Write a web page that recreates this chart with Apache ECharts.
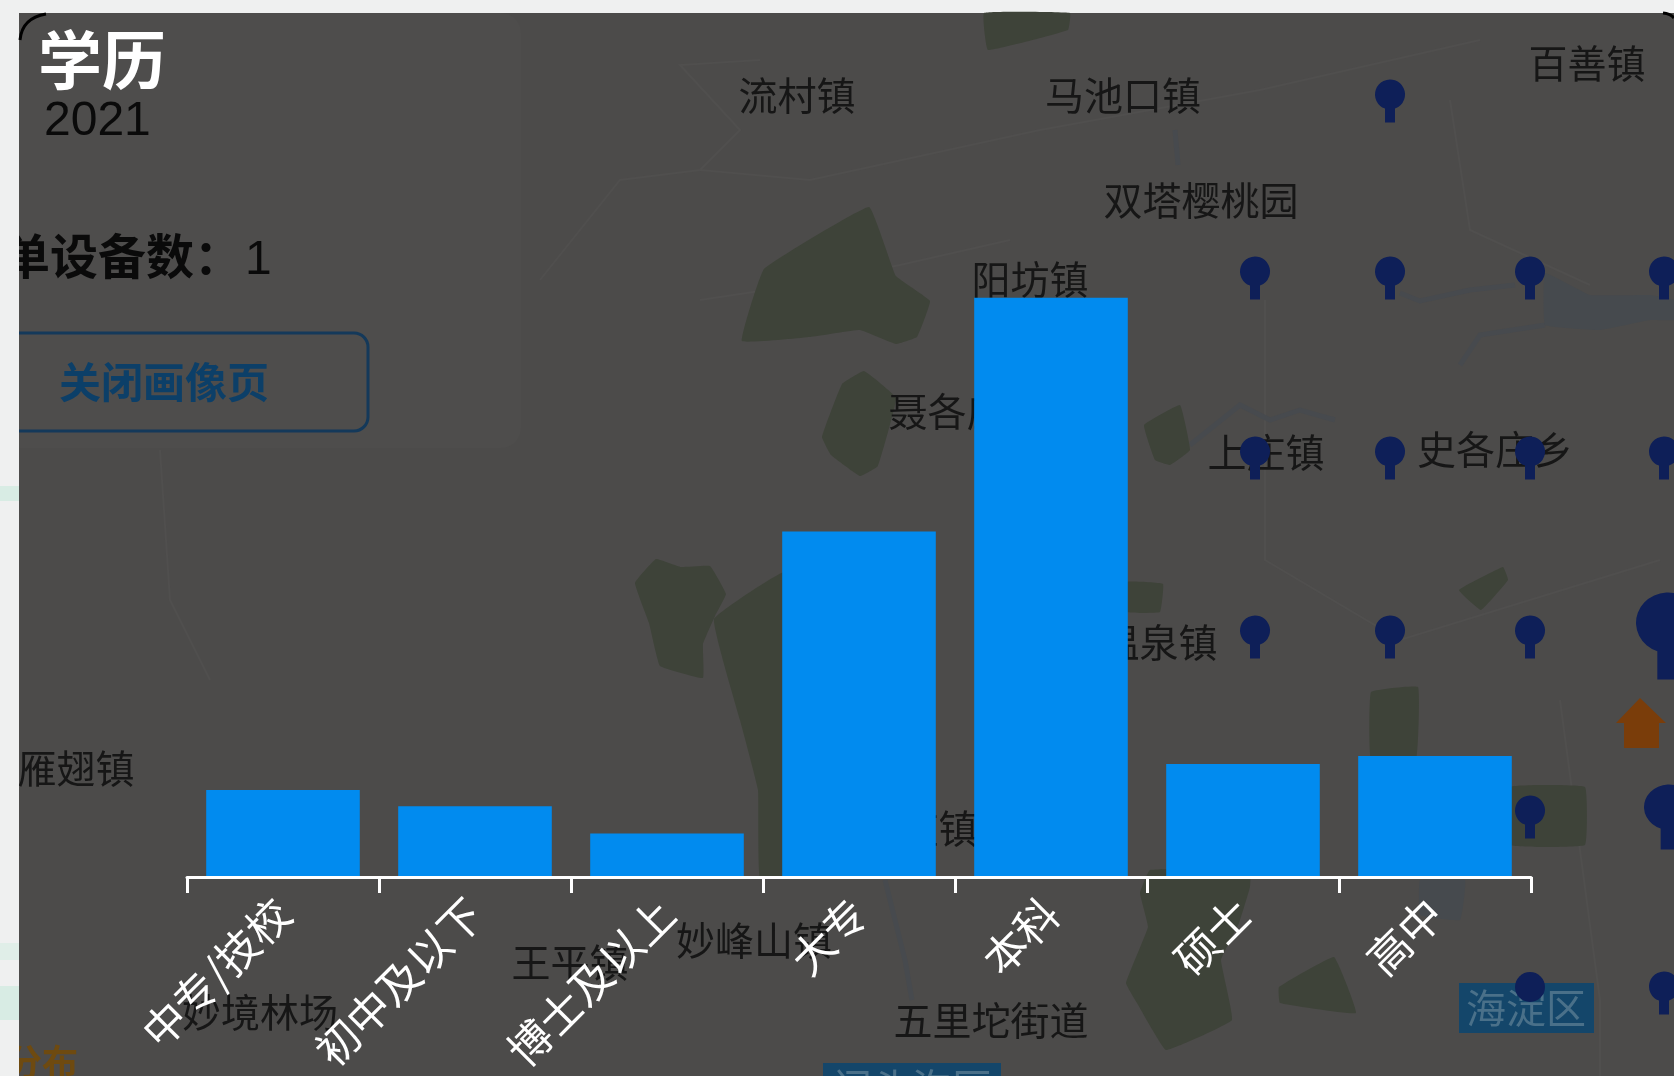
<!DOCTYPE html>
<html>
<head>
<meta charset="utf-8">
<title>学历</title>
<script src="https://cdn.jsdelivr.net/npm/echarts@6/dist/echarts.min.js"></script>
<style>
  html, body { margin: 0; padding: 0; background: #eff0f0; }
  #chart { width: 1674px; height: 1076px; }
</style>
</head>
<body>
<div id="chart"></div>
<script>
// 柱状图数据（百分比，从图上估读）
const categories = ['中专/技校', '初中及以下', '博士及以上', '大专', '本科', '硕士', '高中'];
const eduShare = [6.4, 5.2, 3.2, 25.4, 42.6, 8.3, 8.9];

// 底图上的点位，宽高相等的那个只露出圆头
const pinX = [1390, 1255, 1390, 1530, 1664, 1255, 1390, 1530, 1664, 1255, 1390, 1530, 1668, 1530, 1669, 1530, 1664];
const pinY = [101, 278, 278, 278, 278, 458, 458, 458, 458, 637, 637, 637, 636, 817, 817, 987, 993];
const pinW = [30, 30, 30, 30, 30, 30, 30, 30, 30, 30, 30, 30, 64, 30, 50, 30, 30];
const pinH = [43, 43, 43, 43, 43, 43, 43, 43, 43, 43, 43, 43, 87, 43, 65, 30, 43];

// 底图地名
const townNames = ['流村镇', '马池口镇', '百善镇', '双塔樱桃园', '阳坊镇', '聂各庄', '上庄镇', '史各庄乡', '温泉镇', '雁翅镇', '军庄镇', '妙峰山镇', '王平镇', '妙境林场', '五里坨街道'];
const townX = [797, 1123, 1587, 1201, 1030, 947, 1266, 1495, 1159, 76, 919, 754, 570, 260, 991];
const townY = [95, 95, 63, 200, 279, 411, 452, 449, 642, 768, 828, 940, 962, 1012, 1020];

// 底图绿地
const parks = [
  [[984, 13], [1070, 13], [1068, 30], [988, 50]],
  [[742, 341], [764, 269], [869, 207], [896, 276], [930, 301], [917, 337], [896, 344], [860, 330], [810, 337]],
  [[864, 371], [896, 398], [878, 466], [860, 476], [831, 455], [822, 437], [842, 384]],
  [[635, 583], [656, 559], [681, 567], [710, 566], [726, 594], [715, 616], [703, 644], [703, 678], [660, 666], [649, 623]],
  [[714, 619], [790, 570], [800, 877], [760, 877], [758, 790], [740, 720]],
  [[1144, 425], [1180, 405], [1190, 450], [1170, 465], [1155, 460]],
  [[1127, 582], [1163, 584], [1160, 612], [1127, 612]],
  [[1459, 590], [1503, 567], [1508, 580], [1481, 610]],
  [[1371, 692], [1418, 687], [1416, 760], [1371, 760]],
  [[1510, 787], [1585, 787], [1585, 845], [1510, 845]],
  [[1140, 893], [1150, 870], [1250, 870], [1250, 887], [1239, 923], [1221, 960], [1232, 1020], [1166, 1050], [1137, 1003], [1126, 983], [1148, 927]],
  [[1279, 987], [1334, 957], [1356, 1013], [1280, 1003]]
];

// 底图水系
const lakes = [
  [[1545, 273], [1590, 295], [1650, 295], [1674, 300], [1674, 320], [1650, 320], [1600, 330], [1545, 325]],
  [[1420, 880], [1465, 880], [1460, 920], [1420, 915]]
];
const rivers = [
  [[1400, 293], [1420, 301], [1470, 290], [1515, 285]],
  [[1460, 365], [1480, 335], [1545, 325]],
  [[1190, 445], [1240, 405], [1270, 420], [1300, 410], [1335, 420]],
  [[885, 880], [905, 960], [912, 1000]],
  [[1175, 130], [1178, 165]]
];
const roads = [
  [[540, 280], [620, 180], [700, 170], [740, 130], [680, 65], [760, 60]],
  [[700, 300], [800, 285], [900, 265], [1010, 240]],
  [[700, 170], [810, 180], [1040, 130], [1260, 90], [1480, 40]],
  [[1450, 100], [1470, 230], [1590, 285]],
  [[1265, 300], [1265, 560], [1400, 640], [1660, 560]],
  [[1560, 700], [1600, 1000], [1600, 1076]],
  [[160, 450], [170, 600], [210, 680]]
];

const fontCJK = '"Noto Sans CJK SC", "Noto Sans", sans-serif';
const fontLatin = '"Liberation Sans", Arial, sans-serif';

const graphicEls = [];

const addText = (text, x, y, size, color, extra) => {
  graphicEls.push({
    type: 'text',
    z: -4,
    x: x,
    y: y,
    style: Object.assign({
      text: text,
      fill: color,
      font: `${size}px ${fontCJK}`,
      align: 'center',
      verticalAlign: 'middle'
    }, extra)
  });
};

const addPoly = (points, color, z) => {
  graphicEls.push({ type: 'polygon', z: z, shape: { points: points, smooth: 0.08 }, style: { fill: color } });
};

const addLine = (points, color, width, z) => {
  graphicEls.push({ type: 'polyline', z: z, shape: { points: points }, style: { stroke: color, lineWidth: width, fill: null } });
};

// 遮罩底色和左上角的浅色面板
graphicEls.push({ type: 'rect', z: -10, shape: { x: 0, y: 13, width: 1674, height: 1063 }, style: { fill: '#4c4b4a' } });
graphicEls.push({ type: 'rect', z: -9, shape: { x: 0, y: 13, width: 521, height: 435, r: 20 }, style: { fill: '#4e4d4c' } });

roads.forEach(r => addLine(r, '#504f4e', 2, -8));
rivers.forEach(r => addLine(r, '#474a4e', 5, -7));
lakes.forEach(l => addPoly(l, '#464a4e', -7));
parks.forEach(p => addPoly(p, '#3e4339', -6));

townNames.forEach((name, i) => addText(name, townX[i], townY[i], 39, '#161616'));

// 面板文字
addText('学历', 38, 60, 64, '#ffffff', { align: 'left', font: `bold 64px ${fontCJK}` });
addText('2021', 44, 122, 48, '#0a0a0a', { align: 'left', font: `48px ${fontLatin}` });
addText('单设备数：', 2, 256, 48, '#0a0a0a', { align: 'left', font: `bold 48px ${fontCJK}` });
addText('1', 245, 261, 48, '#0a0a0a', { align: 'left', font: `48px ${fontLatin}` });
graphicEls.push({
  type: 'rect',
  z: -3,
  shape: { x: -20, y: 333, width: 388, height: 98, r: 14 },
  style: { fill: null, stroke: '#14395a', lineWidth: 3 }
});
addText('关闭画像页', 59, 382, 42, '#0c3f68', { align: 'left', font: `bold 42px ${fontCJK}` });
addText('分布', 78, 1062, 36, '#6e4a10', { align: 'right', font: `bold 36px ${fontCJK}` });

// 区名色块
graphicEls.push({ type: 'rect', z: -2, shape: { x: 1459, y: 983, width: 135, height: 50 }, style: { fill: '#14466a' } });
graphicEls.push({ type: 'text', z: -1.9, x: 1526, y: 1008, style: { text: '海淀区', fill: '#4a7089', font: `40px ${fontCJK}`, align: 'center', verticalAlign: 'middle' } });
graphicEls.push({ type: 'rect', z: -2, shape: { x: 823, y: 1063, width: 178, height: 50 }, style: { fill: '#14466a' } });
graphicEls.push({ type: 'text', z: -1.9, x: 912, y: 1088, style: { text: '门头沟区', fill: '#4a7089', font: `40px ${fontCJK}`, align: 'center', verticalAlign: 'middle' } });

// 橙色房子图标
graphicEls.push({
  type: 'polygon',
  z: -0.5,
  shape: { points: [[1640, 698], [1616, 723], [1624, 723], [1624, 748], [1659, 748], [1659, 723], [1666, 723]] },
  style: { fill: '#7a3d0a' }
});

// 左边露出的浅色页面，盖住被裁掉的文字
graphicEls.push({ type: 'rect', z: 5, shape: { x: 0, y: 0, width: 19, height: 1076 }, style: { fill: '#eff0f0' } });
graphicEls.push({ type: 'rect', z: 6, shape: { x: 0, y: 486, width: 19, height: 15 }, style: { fill: '#d8ece4' } });
graphicEls.push({ type: 'rect', z: 6, shape: { x: 0, y: 943, width: 19, height: 17 }, style: { fill: '#e0eee8' } });
graphicEls.push({ type: 'rect', z: 6, shape: { x: 0, y: 986, width: 19, height: 34 }, style: { fill: '#d8ece4' } });

// 面板两个圆角的黑边
graphicEls.push({ type: 'bezierCurve', z: 7, shape: { x1: 20, y1: 40, x2: 46, y2: 14, cpx1: 22, cpy1: 18 }, style: { stroke: '#000000', lineWidth: 3, fill: null } });
graphicEls.push({ type: 'bezierCurve', z: 7, shape: { x1: 1663, y1: 13, x2: 1674, y2: 18, cpx1: 1671, cpy1: 14 }, style: { stroke: '#000000', lineWidth: 3, fill: null } });

const pinPath = 'path://M10 29A15 15 0 1 1 20 29L20 43L10 43Z';

const chart = echarts.init(document.getElementById('chart'));

chart.setOption({
  backgroundColor: '#eff0f0',
  animation: false,
  graphic: { elements: graphicEls },
  grid: [
    { left: 187, right: 143, top: 197, bottom: 199 },
    { left: 0, right: 0, top: 0, bottom: 0 }
  ],
  xAxis: [
    {
      type: 'category',
      data: categories,
      z: 3, // 轴线压在柱子上面
      axisLine: { show: true, lineStyle: { color: '#ffffff', width: 3 } },
      axisTick: { show: true, length: 16, lineStyle: { color: '#ffffff', width: 3 } },
      axisLabel: {
        interval: 0,
        rotate: 45,
        margin: 29,
        color: '#ffffff',
        fontSize: 43,
        fontFamily: fontCJK
      }
    },
    { type: 'value', gridIndex: 1, min: 0, max: 1674, show: false }
  ],
  yAxis: [
    { type: 'value', min: 0, max: 50, show: false },
    { type: 'value', gridIndex: 1, min: 0, max: 1076, inverse: true, show: false }
  ],
  series: [
    {
      type: 'scatter',
      xAxisIndex: 1,
      yAxisIndex: 1,
      z: -1,
      silent: true,
      symbolKeepAspect: false,
      itemStyle: { color: '#0e1f58', opacity: 1 },
      data: pinX.map((x, i) => ({
        value: [x, pinY[i]],
        symbol: pinW[i] === pinH[i] ? 'circle' : pinPath,
        symbolSize: [pinW[i], pinH[i]]
      }))
    },
    {
      type: 'bar',
      data: eduShare,
      barWidth: '80%',
      itemStyle: { color: '#018bef' }
    }
  ]
});
</script>
</body>
</html>
